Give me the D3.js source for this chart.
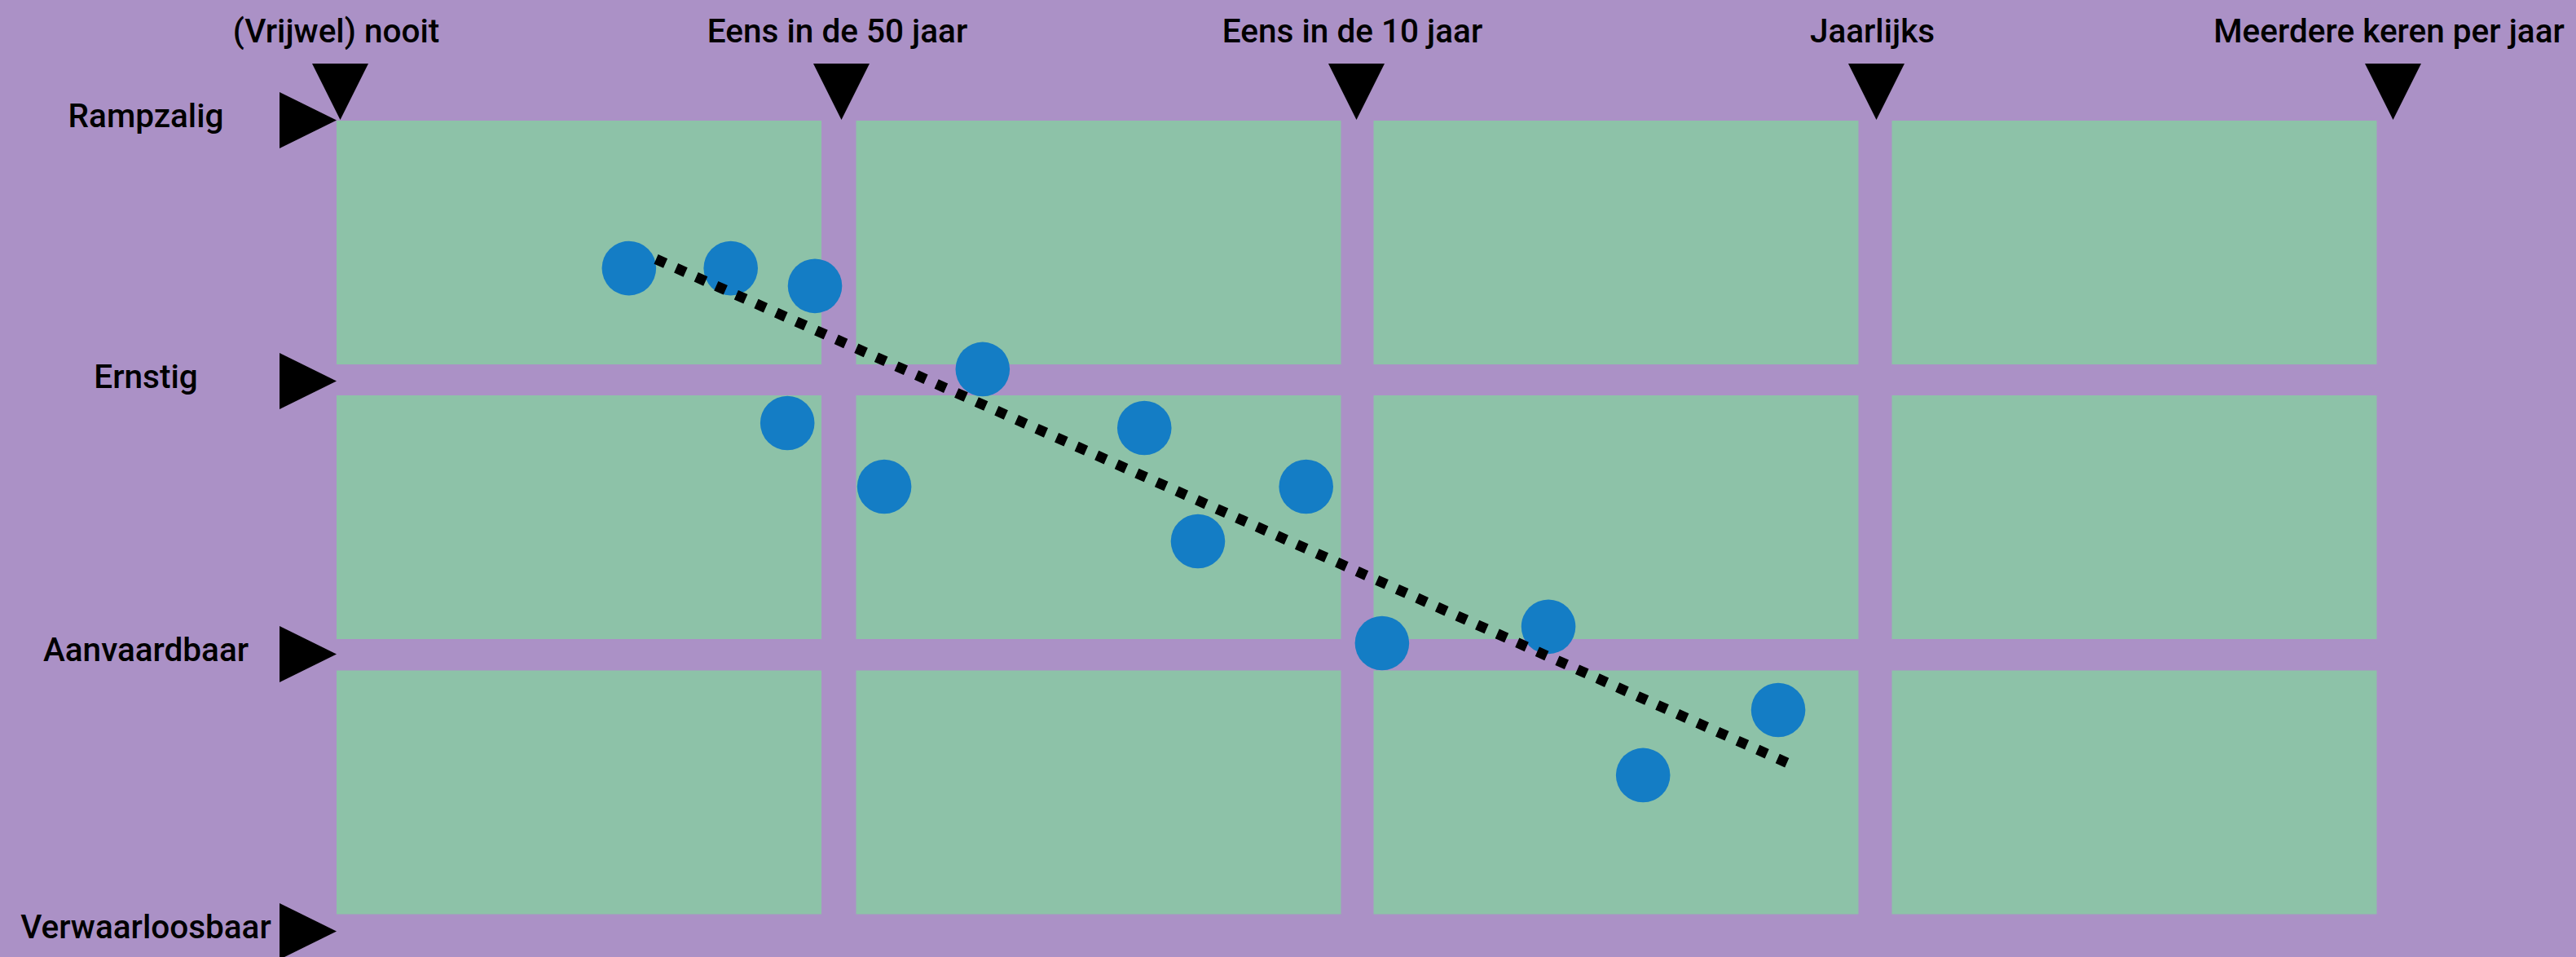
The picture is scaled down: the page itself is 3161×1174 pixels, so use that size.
<!DOCTYPE html>
<html>
<head>
<meta charset="utf-8">
<script src="https://cdn.jsdelivr.net/npm/d3@7"></script>
<style>
  html, body { margin: 0; padding: 0; background: #ab91c6; }
  svg { display: block; }
</style>
</head>
<body>
<svg id="chart" width="3161" height="1174"></svg>
<script>
// ---- data ----
const frequencyLabels = ["(Vrijwel) nooit", "Eens in de 50 jaar", "Eens in de 10 jaar", "Jaarlijks", "Meerdere keren per jaar"];
const impactLabels = ["Verwaarloosbaar", "Aanvaardbaar", "Ernstig", "Rampzalig"];
// risk points: frequency (0..4) and impact (0..3)
const riskFrequency = [0.577, 0.780, 0.948, 1.275, 0.893, 1.084, 1.589, 1.693, 1.903, 2.050, 2.370, 2.812, 2.552];
const riskImpact    = [2.431, 2.431, 2.363, 2.044, 1.845, 1.612, 1.827, 1.412, 1.612, 1.039, 1.099, 0.797, 0.562];
// trend line end points
const trendFrequency = [0.631, 2.837];
const trendImpact    = [2.466, 0.600];

// ---- layout ----
const W = 3161, H = 1174;
const purple = "#ab91c6", green = "#8dc2a8", blue = "#147dc5";
const cellW = 595, cellH = 299;
const fontSize = 40.5;

const svg = d3.select("#chart");
svg.append("rect").attr("width", W).attr("height", H).attr("fill", purple);

const x = d3.scaleLinear().domain([0, 1, 2, 3, 4]).range([417, 1032, 1664, 2302, 2936]);
const y = d3.scaleLinear().domain([0, 1, 2, 3]).range([1142, 802, 467, 147]);

// grid cells
const cells = [];
for (let i = 0; i < frequencyLabels.length - 1; i++) {
  for (let j = 0; j < impactLabels.length - 1; j++) cells.push({ i, j });
}
svg.append("g").selectAll("rect").data(cells).join("rect")
  .attr("x", d => d.i === 0 ? x(0) - 4 : (x(d.i) + x(d.i + 1)) / 2 - cellW / 2)
  .attr("y", d => d.j === impactLabels.length - 2 ? y(d.j + 1) + 1 : (y(d.j) + y(d.j + 1)) / 2 - cellH / 2)
  .attr("width", cellW)
  .attr("height", cellH)
  .attr("fill", green);

// top axis
const xAxis = d3.axisTop(x)
  .tickValues(d3.range(frequencyLabels.length))
  .tickFormat(i => frequencyLabels[i])
  .tickSize(0);
const gx = svg.append("g").attr("transform", `translate(0,${y(3)})`).call(xAxis);
gx.select(".domain").remove();
gx.selectAll(".tick text")
  .attr("x", -5)
  .attr("y", -95).attr("dy", 0)
  .attr("font-family", "Roboto").attr("font-weight", 500).attr("font-size", fontSize)
  .attr("fill", "#000");
gx.selectAll(".tick").append("path")
  .attr("d", "M-34.5,-69L34.5,-69L0,0Z")
  .attr("fill", "#000");

// left axis
const yAxis = d3.axisLeft(y)
  .tickValues(d3.range(impactLabels.length))
  .tickFormat(i => impactLabels[i])
  .tickSize(0);
const gy = svg.append("g").attr("transform", `translate(${x(0) - 4},0)`).call(yAxis);
gy.select(".domain").remove();
gy.selectAll(".tick text")
  .attr("x", -234).attr("y", 8).attr("dy", 0)
  .attr("text-anchor", "middle")
  .attr("font-family", "Roboto").attr("font-weight", 500).attr("font-size", fontSize)
  .attr("fill", "#000");
gy.selectAll(".tick").append("path")
  .attr("d", "M-70,-34.5L0,0L-70,34.5Z")
  .attr("fill", "#000");

// points
svg.append("g").selectAll("circle").data(riskFrequency).join("circle")
  .attr("cx", d => x(d))
  .attr("cy", (d, k) => y(riskImpact[k]))
  .attr("r", 33.3)
  .attr("fill", blue);

// trend line
svg.append("path")
  .datum(trendFrequency.map((f, k) => [f, trendImpact[k]]))
  .attr("d", d3.line().x(d => x(d[0])).y(d => y(d[1])))
  .attr("fill", "none")
  .attr("stroke", "#000")
  .attr("stroke-width", 12.6)
  .attr("stroke-dasharray", "12.6 14.3");
</script>
</body>
</html>
